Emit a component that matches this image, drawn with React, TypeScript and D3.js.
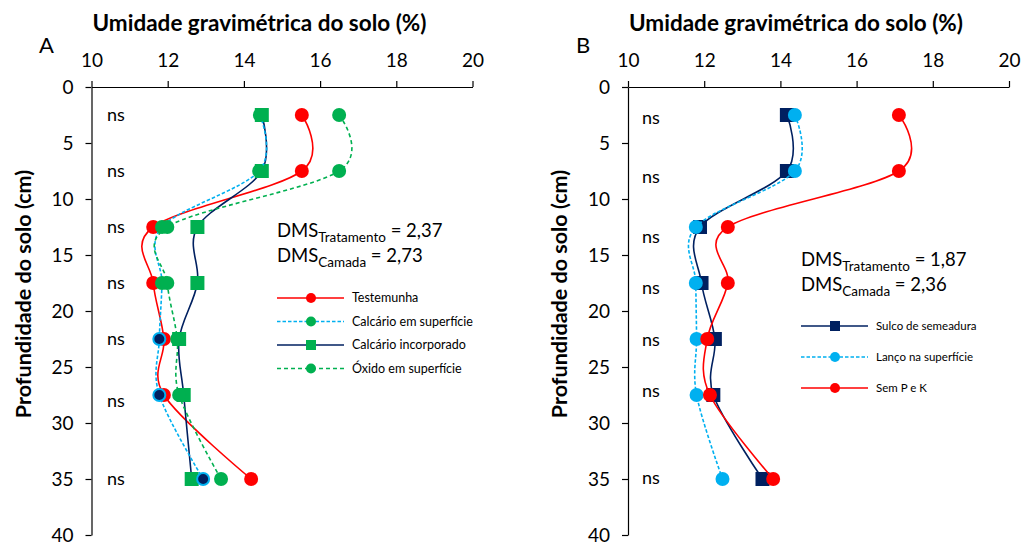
import React, { useEffect, useRef } from 'react';
import * as d3 from 'd3';

// ---- Data ----
const depths = [2.5, 7.5, 12.5, 17.5, 22.5, 27.5, 35];
const xTicks = [10, 12, 14, 16, 18, 20];
const yTicks = [0, 5, 10, 15, 20, 25, 30, 35, 40];

// Panel A
const testemunha = [15.52, 15.52, 11.62, 11.62, 11.9, 11.9, 14.19];
const calcarioSuperficie = [14.42, 14.4, 11.85, 11.85, 11.78, 11.78, 12.93];
const calcarioIncorporado = [14.47, 14.47, 12.78, 12.78, 12.3, 12.42, 12.63];
const oxidoSuperficie = [16.5, 16.5, 11.99, 11.99, 12.25, 12.3, 13.4];
const nsA = ['ns', 'ns', 'ns', 'ns', 'ns', 'ns', 'ns'];
const nsDepthA = [2.5, 7.5, 12.5, 17.5, 22.5, 28, 35];
const dmsA = ['2,37', '2,73'];

// Panel B
const sulcoSemeadura = [14.17, 14.17, 11.89, 11.93, 12.28, 12.24, 13.53];
const lancoSuperficie = [14.38, 14.38, 11.78, 11.78, 11.8, 11.8, 12.48];
const semPK = [17.11, 17.11, 12.62, 12.62, 12.08, 12.15, 13.81];
const nsB = ['ns', 'ns', 'ns', 'ns', 'ns', 'ns', 'ns'];
const nsDepthB = [2.7, 8, 13.4, 17.9, 22.6, 27.1, 34.9];
const dmsB = ['1,87', '2,36'];

const xTitle = 'Umidade gravimétrica do solo (%)';
const yTitle = 'Profundidade do solo (cm)';

// ---- Styles ----
const RED = '#FF0000';
const GREEN = '#00B050';
const NAVY = '#002060';
const BLUE = '#00B0F0';
const FONT = 'Lato, "Open Sans", sans-serif';

type Series = {
  name: string;
  values: number[];
  line: string;
  dash?: string;
  marker: 'circle' | 'square';
  fill: string;
  deepFill?: string;
  deepStroke?: string;
  deepFrom?: number;
};

const seriesA: Series[] = [
  { name: 'Testemunha', values: testemunha, line: RED, marker: 'circle', fill: RED },
  { name: 'Calcário incorporado', values: calcarioIncorporado, line: NAVY, marker: 'square', fill: GREEN },
  { name: 'Calcário em superfície', values: calcarioSuperficie, line: BLUE, dash: '3.5 2', marker: 'circle', fill: GREEN, deepFill: NAVY, deepStroke: BLUE, deepFrom: 4 },
  { name: 'Óxido em superfície', values: oxidoSuperficie, line: GREEN, dash: '4 3', marker: 'circle', fill: GREEN },
];
const legendOrderA = [0, 2, 1, 3];

const seriesB: Series[] = [
  { name: 'Sulco de semeadura', values: sulcoSemeadura, line: NAVY, marker: 'square', fill: NAVY },
  { name: 'Lanço na superfície', values: lancoSuperficie, line: BLUE, dash: '3.5 2', marker: 'circle', fill: BLUE },
  { name: 'Sem P e K', values: semPK, line: RED, marker: 'circle', fill: RED },
];
const legendOrderB = [0, 1, 2];

type PanelProps = {
  x0: number;
  letter: string;
  series: Series[];
  legendOrder: number[];
  ns: string[];
  nsDepth: number[];
  nsX: number;
  dms: string[];
  dmsPos: [number, number];
  legendPos: [number, number];
  legendGap: number;
  legendFont: number;
};

const Y0 = 87;
const Y1 = 535;
const XW = 381;

function Panel(p: PanelProps) {
  const xRef = useRef<SVGGElement>(null);
  const yRef = useRef<SVGGElement>(null);
  const x = d3.scaleLinear().domain([10, 20]).range([p.x0, p.x0 + XW]);
  const y = d3.scaleLinear().domain([0, 40]).range([Y0, Y1]);

  useEffect(() => {
    const xa = d3.axisTop(x).tickValues(xTicks).tickSize(6).tickSizeOuter(0).tickPadding(14).tickFormat(d3.format('d'));
    const ya = d3.axisLeft(y).tickValues(yTicks).tickSize(6).tickSizeOuter(0).tickPadding(12).tickFormat(d3.format('d'));
    const gx = d3.select(xRef.current!).call(xa as any);
    const gy = d3.select(yRef.current!).call(ya as any);
    [gx, gy].forEach((g) => {
      g.selectAll('path').attr('stroke', '#000').attr('stroke-width', 1.2);
      g.selectAll('line').attr('stroke', '#000').attr('stroke-width', 1.2);
      g.selectAll('text').attr('font-family', FONT).attr('font-size', 19).attr('fill', '#000');
    });
    gy.selectAll('text').attr('dy', '0.35em');
  }, []);

  const line = d3
    .line<number>()
    .x((v) => x(v))
    .y((_, i) => y(depths[i]))
    .curve(d3.curveCardinal.tension(0));

  const marker = (s: Series, cx: number, cy: number, size: number, i: number, key: string) => {
    const deep = s.deepFrom !== undefined && i >= s.deepFrom;
    const fill = deep ? s.deepFill! : s.fill;
    const stroke = deep ? s.deepStroke! : 'none';
    if (s.marker === 'square') {
      return <rect key={key} x={cx - size} y={cy - size} width={size * 2} height={size * 2} fill={fill} />;
    }
    return <circle key={key} cx={cx} cy={cy} r={deep ? size - 1 : size} fill={fill} stroke={stroke} strokeWidth={deep ? 2 : 0} />;
  };

  return (
    <g>
      <text x={p.x0 + 168} y={31} textAnchor="middle" fontFamily={FONT} fontWeight="bold" fontSize={22.5} fill="#000">
        {xTitle}
      </text>
      <text x={p.x0 - 45} y={53} textAnchor="middle" fontFamily={FONT} fontSize={22} fill="#000">
        {p.letter}
      </text>
      <text
        transform={`translate(${p.x0 - 61},${294}) rotate(-90)`}
        textAnchor="middle"
        fontFamily={FONT}
        fontWeight="bold"
        fontSize={21.5}
        fill="#000"
      >
        {yTitle}
      </text>
      <g ref={xRef} transform={`translate(0,${Y0})`} />
      <g ref={yRef} transform={`translate(${p.x0},0)`} />
      {p.ns.map((t, i) => (
        <text key={'ns' + i} x={p.nsX} y={y(p.nsDepth[i])} dy="0.35em" textAnchor="middle" fontFamily={FONT} fontSize={18} fill="#000">
          {t}
        </text>
      ))}
      {p.series.map((s, si) => (
        <g key={'s' + si}>
          <path d={line(s.values) || ''} fill="none" stroke={s.line} strokeWidth={1.6} strokeDasharray={s.dash} />
          {s.values.map((v, i) => marker(s, x(v), y(depths[i]), 7, i, `m${si}-${i}`))}
        </g>
      ))}
      <text x={p.dmsPos[0]} y={p.dmsPos[1]} fontFamily={FONT} fontSize={18.5} fill="#000">
        <tspan>DMS</tspan>
        <tspan fontSize={13.5} dy={5}>Tratamento</tspan>
        <tspan dy={-5}>{' = ' + p.dms[0]}</tspan>
      </text>
      <text x={p.dmsPos[0]} y={p.dmsPos[1] + 25} fontFamily={FONT} fontSize={18.5} fill="#000">
        <tspan>DMS</tspan>
        <tspan fontSize={13.5} dy={5}>Camada</tspan>
        <tspan dy={-5}>{' = ' + p.dms[1]}</tspan>
      </text>
      {p.legendOrder.map((si, k) => {
        const s = p.series[si];
        const ly = p.legendPos[1] + k * p.legendGap;
        const lx = p.legendPos[0];
        const legendSeries = { ...s, deepFrom: undefined };
        return (
          <g key={'l' + k}>
            <line x1={lx} x2={lx + 67} y1={ly} y2={ly} stroke={s.line} strokeWidth={1.6} strokeDasharray={s.dash} />
            {marker(legendSeries, lx + 34, ly, 5, 0, 'lm' + k)}
            <text x={lx + 75} y={ly} dy="0.35em" fontFamily={FONT} fontSize={p.legendFont} fill="#000">
              {s.name}
            </text>
          </g>
        );
      })}
    </g>
  );
}

export default function App() {
  return (
    <svg width={1024} height={544} style={{ position: 'absolute', left: 0, top: 0, background: '#fff' }}>
      <rect width={1024} height={544} fill="#fff" />
      <Panel
        x0={91.5}
        letter="A"
        series={seriesA}
        legendOrder={legendOrderA}
        ns={nsA}
        nsDepth={nsDepthA}
        nsX={116}
        dms={dmsA}
        dmsPos={[277, 237]}
        legendPos={[277, 298]}
        legendGap={23.5}
        legendFont={12.5}
      />
      <Panel
        x0={628}
        letter="B"
        series={seriesB}
        legendOrder={legendOrderB}
        ns={nsB}
        nsDepth={nsDepthB}
        nsX={651}
        dms={dmsB}
        dmsPos={[801, 266]}
        legendPos={[801, 326]}
        legendGap={31}
        legendFont={11.5}
      />
    </svg>
  );
}
